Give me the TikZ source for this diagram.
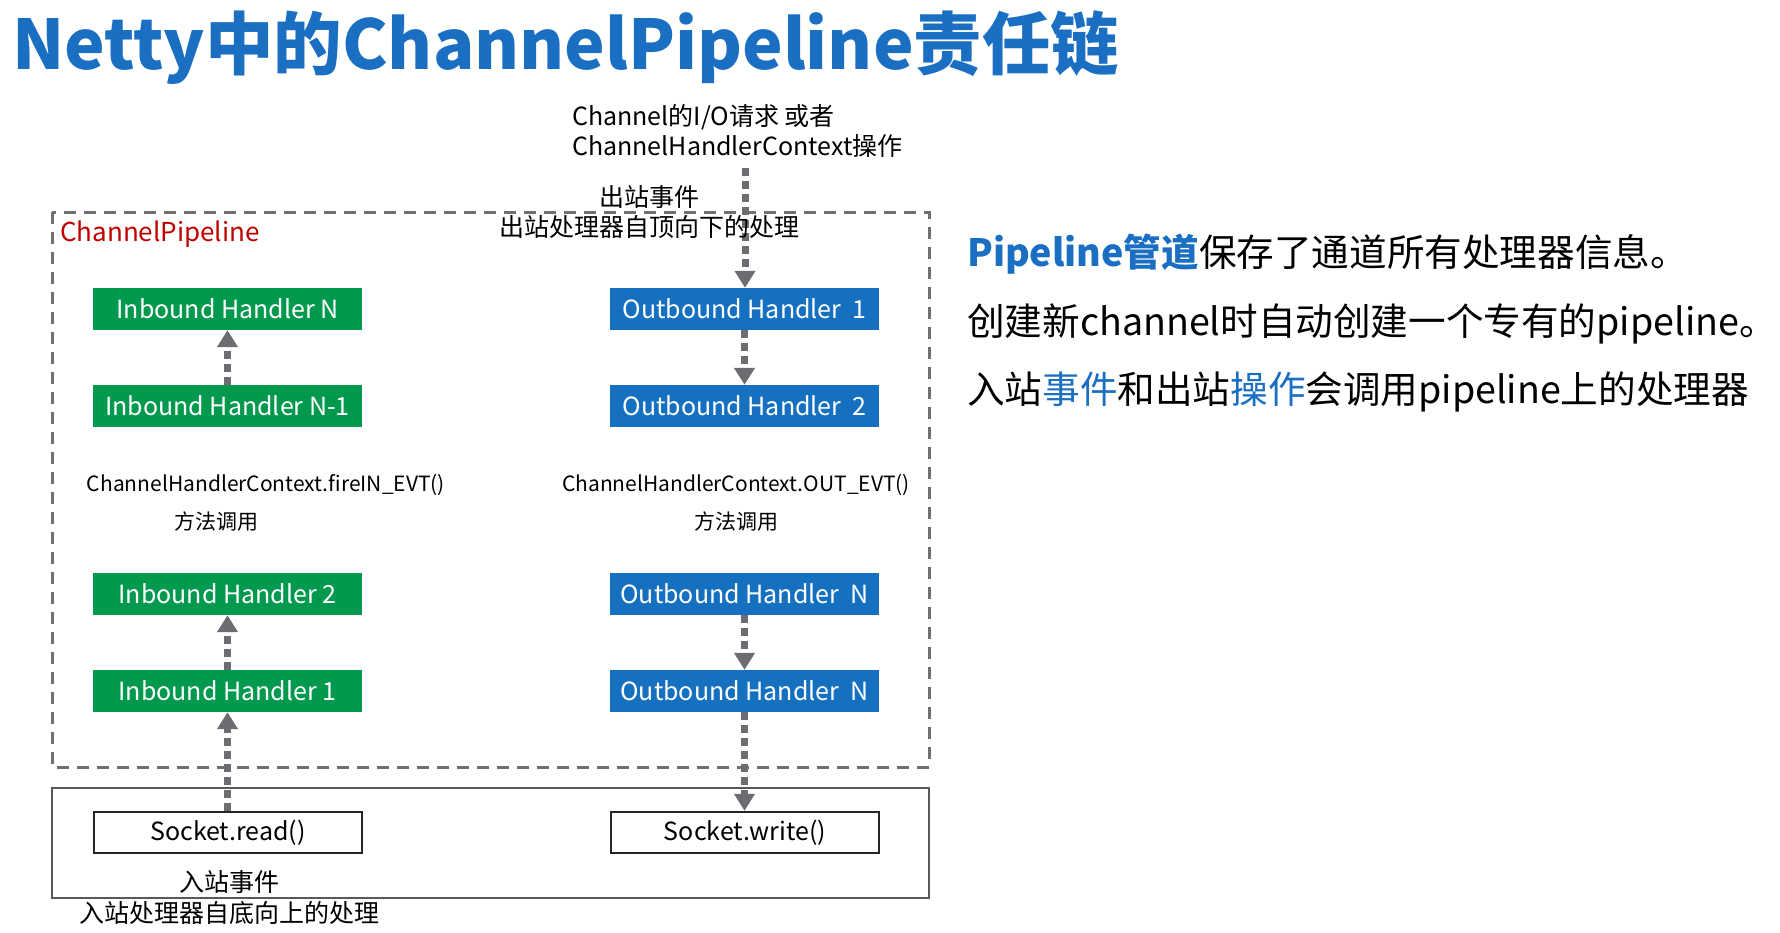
\documentclass[tikz,border=0pt]{standalone}
\usepackage{fontspec}
\setmainfont{Noto Sans CJK SC}
\usetikzlibrary{arrows.meta}
\definecolor{tblue}{HTML}{1A6FC2}
\definecolor{hgreen}{HTML}{00994E}
\definecolor{hblue}{HTML}{1670C0}
\definecolor{tred}{HTML}{C00000}
\definecolor{agray}{HTML}{6C6C72}
\definecolor{bgray}{HTML}{707070}
\newcommand{\fs}[1]{\fontsize{#1}{#1}\selectfont}
\tikzset{
  inbox/.style={fill=hgreen, text=white, minimum width=269pt, minimum height=42pt, inner sep=0pt, font=\fs{25}},
  outbox/.style={fill=hblue, text=white, minimum width=269pt, minimum height=42pt, inner sep=0pt, font=\fs{25}},
  sockbox/.style={draw=black!85, line width=2.5pt, fill=white, minimum width=268pt, minimum height=41pt, inner sep=0pt, font=\fs{25}},
  flow/.style={draw=agray, line width=7pt, dash pattern=on 8pt off 5pt, -{Triangle[width=20pt,length=17pt,fill=agray]}},
  lbl/.style={inner sep=0pt, font=\fs{25}},
  small/.style={inner sep=0pt, font=\fs{21}},
  side/.style={inner sep=0pt, anchor=west, font=\fs{37.6}}
}
\begin{document}
\begin{tikzpicture}[x=1pt,y=-1pt]
\useasboundingbox[fill=white] (0,0) rectangle (1780,932);

% title
\node[inner sep=0pt, anchor=west, text=tblue, font=\fs{68.5}\bfseries] (title) at (12,48) {Netty中的ChannelPipeline责任链};

% containers
\draw[bgray, line width=3pt, dash pattern=on 12pt off 8pt] (52,212) rectangle (929,767);
\draw[black!65, line width=2.5pt] (52,788) rectangle (929,898);
\node[inner sep=0pt, anchor=west, text=tred, font=\fs{26}] (cp) at (60,234) {ChannelPipeline};

% inbound handlers
\node[inbox] (ihn) at (227.5,309) {Inbound Handler N};
\node[inbox] (ihn1) at (227.5,406) {Inbound Handler N-1};
\node[inbox] (ih2) at (227.5,594) {Inbound Handler 2};
\node[inbox] (ih1) at (227.5,691) {Inbound Handler 1};

% outbound handlers
\node[outbox] (oh1) at (744.5,309) {Outbound Handler\ \ 1};
\node[outbox] (oh2) at (744.5,406) {Outbound Handler\ \ 2};
\node[outbox] (ohn) at (744.5,594) {Outbound Handler\ \ N};
\node[outbox] (ohm) at (744.5,691) {Outbound Handler\ \ N};

% sockets
\node[sockbox] (sr) at (228,832.5) {Socket.read()};
\node[sockbox] (sw) at (745,832.5) {Socket.write()};

% middle labels
\node[small] (fire) at (266,485) {ChannelHandlerContext.fireIN\_EVT()};
\node[small] (ffm) at (216,522) {方法调用};
\node[small] (outevt) at (736,485) {ChannelHandlerContext.OUT\_EVT()};
\node[small] (ofm) at (736,522) {方法调用};

% top labels
\node[lbl, anchor=west] (req1) at (572,117) {Channel的I/O请求 或者};
\node[lbl, anchor=west] (req2) at (572,146) {ChannelHandlerContext操作};
\coordinate (src) at (745,168);

% flows
\draw[flow] (sr.north -| ih1.south) -- (ih1.south);
\draw[flow] (ih1.north) -- (ih2.south);
\draw[flow] (ihn1.north) -- (ihn.south);
\draw[flow] (src) -- (src |- oh1.north);
\draw[flow] (oh1.south) -- (oh2.north);
\draw[flow] (ohn.south) -- (ohm.north);
\draw[flow] (ohm.south) -- (ohm.south |- sw.north);

\node[lbl] (oev) at (649,197) {出站事件};
\node[lbl] (oproc) at (649,227) {出站处理器自顶向下的处理};
\node[lbl] (iev) at (229,882) {入站事件};
\node[lbl] (iproc) at (229,913) {入站处理器自底向上的处理};

% side text
\node[side] (s1) at (967,254) {\textcolor{tblue}{\bfseries Pipeline管道}保存了通道所有处理器信息。};
\node[side] (s2) at (967,324) {创建新channel时自动创建一个专有的pipeline。};
\node[side] (s3) at (967,392) {入站\textcolor{tblue}{事件}和出站\textcolor{tblue}{操作}会调用pipeline上的处理器};
\end{tikzpicture}
\end{document}
